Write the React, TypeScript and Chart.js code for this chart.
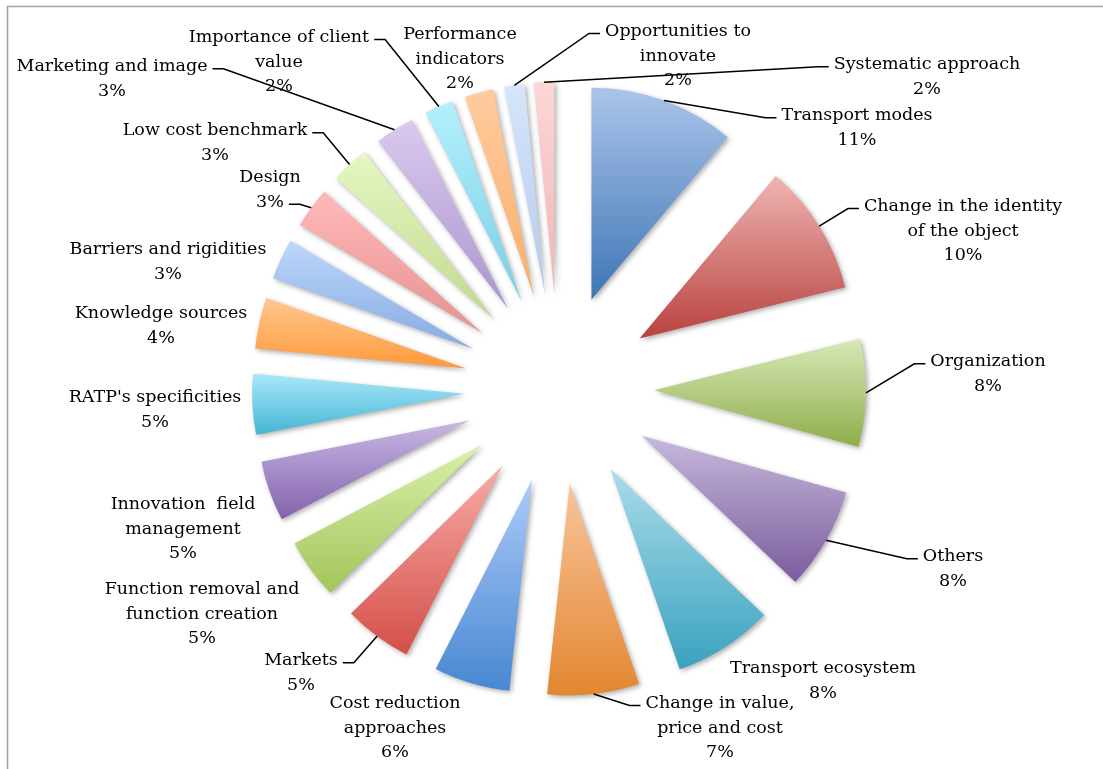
import React, { useEffect, useRef } from 'react';
import { Chart, registerables } from 'chart.js';

Chart.register(...registerables);

// ---------- data ----------
const categories: string[][] = [
  ['Transport modes'],
  ['Change in the identity', 'of the object'],
  ['Organization'],
  ['Others'],
  ['Transport ecosystem'],
  ['Change in value,', 'price and cost'],
  ['Cost reduction', 'approaches'],
  ['Markets'],
  ['Function removal and', 'function creation'],
  ['Innovation  field', 'management'],
  ["RATP's specificities"],
  ['Knowledge sources'],
  ['Barriers and rigidities'],
  ['Design'],
  ['Low cost benchmark'],
  ['Marketing and image'],
  ['Importance of client', 'value'],
  ['Performance', 'indicators'],
  ['Opportunities to', 'innovate'],
  ['Systematic approach'],
];

const shares: number[] = [
  11.1, 10, 8.2, 7.8, 7.6, 7.0, 5.8, 5.2, 4.6, 4.6,
  4.6, 3.9, 3.1, 3.1, 2.9, 3.0, 2.2, 2.2, 1.55, 1.55,
];

// ---------- styles ----------
const topColors: string[] = [
  '#ABC4EA', '#EEB5B3', '#D8E8B8', '#C6B9DB', '#A9DCEB', '#F9C49C', '#ACCBFA', '#F8ABA6', '#D9EFAA', '#C8B8E5',
  '#A8E8FA', '#FFC891', '#BED6FB', '#FFB9B9', '#E6F7C3', '#D9C9EE', '#B4F0FC', '#FFCB9E', '#D6E5FB', '#FDD6D6',
];
const bottomColors: string[] = [
  '#3E76B6', '#B9423F', '#8FAE49', '#7A5C9E', '#3AA2BE', '#E3872F', '#4887D1', '#D44F49', '#A2C55A', '#8462AC',
  '#44B5D3', '#FF993A', '#86ACE2', '#E69190', '#C1D98D', '#AB95CE', '#78CEE6', '#F8AE69', '#B4CBEC', '#ECB6B6',
];

// ---------- layout ----------
const W = 1103;
const H = 769;
const RADIUS = 212;
const EXPLODE = 95;
const FONT = '17.5px "DejaVu Serif"';
const LINE_H = 24.5;

// label block centres relative to the pie centre
const labelOffsets: [number, number][] = [
  [298, -261], [404, -158], [429, -15], [394, 180], [264, 292],
  [161, 339], [-164, 339], [-258, 284], [-357, 225], [-376, 140],
  [-404, 21], [-398, -63], [-391, -127], [-289, -199], [-344, -246],
  [-447, -310], [-280, -327], [-99, -330], [119, -333], [368, -312],
];
// which text line a leader line attaches to (-1: no leader line)
const leaderLine: number[] = [0, 0, 0, 0, -1, 0, -1, 0, -1, -1, -1, -1, -1, 1, 0, 0, 0, -1, 0, 0];

const total = shares.reduce((a, b) => a + b, 0);
const pctText = shares.map((v) => Math.round((v / total) * 100) + '%');

function sliceAngles(i: number): [number, number] {
  let acc = 0;
  for (let k = 0; k < i; k++) acc += shares[k];
  const a0 = -Math.PI / 2 + (acc / total) * Math.PI * 2;
  const a1 = a0 + (shares[i] / total) * Math.PI * 2;
  return [a0, a1];
}

// vertical gradient over each slice's own extent (in the un-translated frame,
// since the arc is drawn after a translate along its mid angle)
function sliceGradient(c: any) {
  const i = c.dataIndex;
  if (i === undefined || i === null) return topColors[0];
  const chart = c.chart;
  const area = chart.chartArea;
  if (!area || !isFinite(area.left)) return bottomColors[i];
  const cy = (area.top + area.bottom) / 2;
  const [a0, a1] = sliceAngles(i);
  let ymin = cy;
  let ymax = cy;
  const N = 32;
  for (let k = 0; k <= N; k++) {
    const a = a0 + ((a1 - a0) * k) / N;
    const y = cy + RADIUS * Math.sin(a);
    ymin = Math.min(ymin, y);
    ymax = Math.max(ymax, y);
  }
  const g = chart.ctx.createLinearGradient(0, ymin, 0, ymax);
  g.addColorStop(0, topColors[i]);
  g.addColorStop(1, bottomColors[i]);
  return g;
}

const explodedPiePlugin = {
  id: 'explodedPie',
  afterDatasetsUpdate(chart: any) {
    // keep every exploded slice at the same radius and its true angular width
    const meta = chart.getDatasetMeta(0);
    meta.data.forEach((arc: any) => {
      const fix = 1 - Math.sin(Math.min(Math.PI, arc.circumference || 0));
      const ro = EXPLODE * fix;
      arc.outerRadius = RADIUS - ro;
      const d = ro / (Math.PI * RADIUS);
      arc.startAngle -= d / 2;
      arc.endAngle += d / 2;
    });
  },
  beforeDatasetsDraw(chart: any) {
    const ctx = chart.ctx;
    ctx.save();
    ctx.shadowColor = 'rgba(0,0,0,0.32)';
    ctx.shadowBlur = 5;
    ctx.shadowOffsetX = 2;
    ctx.shadowOffsetY = 2;
  },
  afterDatasetsDraw(chart: any) {
    const ctx = chart.ctx;
    ctx.restore();
    const area = chart.chartArea;
    const cx = (area.left + area.right) / 2;
    const cy = (area.top + area.bottom) / 2;
    ctx.save();
    ctx.font = FONT;
    ctx.fillStyle = '#000';
    ctx.strokeStyle = '#000';
    ctx.lineWidth = 1.5;
    ctx.textAlign = 'center';
    ctx.textBaseline = 'middle';
    categories.forEach((cat, i) => {
      const lines = [...cat, pctText[i]];
      const n = lines.length;
      const lx = cx + labelOffsets[i][0];
      const ly = cy + labelOffsets[i][1];
      lines.forEach((t, j) => {
        ctx.fillText(t, lx, ly + (j - (n - 1) / 2) * LINE_H);
      });
      const li = leaderLine[i];
      if (li >= 0) {
        const [a0, a1] = sliceAngles(i);
        const m = (a0 + a1) / 2;
        const px = cx + (EXPLODE + RADIUS) * Math.cos(m);
        const py = cy + (EXPLODE + RADIUS) * Math.sin(m);
        const w = ctx.measureText(lines[li]).width;
        const y = ly + (li - (n - 1) / 2) * LINE_H + 2;
        let ax: number;
        let ex: number;
        if (lx > px) {
          ax = lx - w / 2 - 5;
          ex = ax - 11;
        } else {
          ax = lx + w / 2 + 5;
          ex = ax + 11;
        }
        ctx.beginPath();
        ctx.moveTo(px, py);
        ctx.lineTo(ex, y);
        ctx.lineTo(ax, y);
        ctx.stroke();
      }
    });
    ctx.restore();
  },
  afterDraw(chart: any) {
    const ctx = chart.ctx;
    ctx.save();
    ctx.strokeStyle = '#a3a3a3';
    ctx.lineWidth = 1.5;
    ctx.strokeRect(7.5, 6.5, 1300, 1000);
    ctx.restore();
  },
};

export default function App() {
  const ref = useRef<HTMLCanvasElement | null>(null);
  useEffect(() => {
    if (!ref.current) return;
    const chart = new Chart(ref.current, {
      type: 'pie',
      data: {
        labels: categories.map((c) => c.join(' ')),
        datasets: [
          {
            data: shares,
            backgroundColor: sliceGradient as any,
            borderWidth: 0,
            offset: EXPLODE * 4,
          },
        ],
      },
      options: {
        responsive: false,
        animation: false,
        events: [],
        radius: RADIUS,
        layout: { padding: { left: 15, right: 0, top: 9, bottom: 0 } },
        plugins: {
          legend: { display: false },
          tooltip: { enabled: false },
          title: { display: false },
        },
      } as any,
      plugins: [explodedPiePlugin],
    });
    return () => chart.destroy();
  }, []);
  return (
    <div style={{ position: 'fixed', left: 0, top: 0, width: W, height: H, background: '#fff' }}>
      <canvas ref={ref} width={W} height={H} style={{ display: 'block', width: W, height: H }} />
    </div>
  );
}
